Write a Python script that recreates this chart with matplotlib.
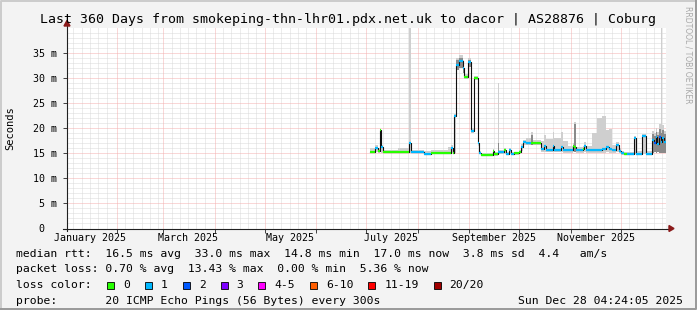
from datetime import datetime, timedelta

import matplotlib
matplotlib.use("Agg")
import matplotlib.pyplot as plt
from matplotlib.lines import Line2D
from matplotlib.patches import Rectangle, Polygon

W, H = 697, 310
MONO = "DejaVu Sans Mono"

# time window shown (360 days ending at the timestamp)
T_END = datetime(2025, 12, 28, 4, 24, 5)
T_START = T_END - timedelta(days=360)

# median rtt segments (start date of each step)
seg_start = [
    "2025-07-03", "2025-07-06", "2025-07-08", "2025-07-09", "2025-07-10", "2025-07-11",
    "2025-07-20", "2025-07-27", "2025-07-28", "2025-08-05", "2025-08-09", "2025-08-19",
    "2025-08-21", "2025-08-22", "2025-08-23", "2025-08-24", "2025-08-26", "2025-08-28",
    "2025-08-29", "2025-08-31", "2025-09-02", "2025-09-04", "2025-09-06", "2025-09-07",
    "2025-09-08", "2025-09-15", "2025-09-16", "2025-09-18", "2025-09-19", "2025-09-22",
    "2025-09-23", "2025-09-25", "2025-09-26", "2025-09-28", "2025-10-01", "2025-10-02",
    "2025-10-03", "2025-10-05", "2025-10-08", "2025-10-09", "2025-10-14", "2025-10-16",
    "2025-10-17", "2025-10-21", "2025-10-22", "2025-10-26", "2025-10-27", "2025-10-30",
    "2025-11-02", "2025-11-03", "2025-11-04", "2025-11-08", "2025-11-09", "2025-11-10",
    "2025-11-14", "2025-11-17", "2025-11-20", "2025-11-22", "2025-11-24", "2025-11-26",
    "2025-11-28", "2025-11-30", "2025-12-01", "2025-12-03", "2025-12-05", "2025-12-09",
    "2025-12-10", "2025-12-14", "2025-12-16", "2025-12-20", "2025-12-21", "2025-12-22",
    "2025-12-23", "2025-12-24", "2025-12-25", "2025-12-26", "2025-12-27",
]
median_ms = [
    15.3, 16.0, 15.4, 19.6, 16.3, 15.2,
    15.2, 17.0, 15.2, 14.9, 15.0, 15.0,
    16.0, 15.1, 22.4, 32.6, 33.3, 32.0,
    30.2, 33.2, 19.5, 30.0, 17.0, 15.0,
    14.6, 15.5, 14.8, 15.2, 15.2, 15.7,
    14.9, 15.7, 14.9, 15.0, 15.2, 16.3,
    17.2, 17.0, 17.0, 17.0, 15.8, 16.4,
    15.6, 16.4, 15.6, 16.2, 15.6, 15.6,
    16.4, 16.2, 15.6, 15.8, 16.5, 15.6,
    15.6, 15.6, 15.8, 16.3, 15.8, 15.7,
    16.6, 15.5, 15.0, 14.9, 14.9, 18.0,
    14.9, 18.4, 14.9, 17.6, 17.0, 18.2,
    16.9, 18.3, 17.3, 18.1, 17.2,
]
loss_idx = [
    0, 1, 0, 0, 1, 0,
    0, 1, 1, 1, 0, 0,
    1, 0, 1, 1, 1, 1,
    0, 1, 1, 0, 1, 1,
    0, 0, 0, 1, 1, 0,
    1, 1, 1, 0, 0, 1,
    1, 1, 0, 0, 1, 1,
    1, 1, 1, 1, 1, 1,
    0, 0, 1, 0, 1, 1,
    1, 1, 1, 1, 1, 1,
    1, 1, 1, 0, 1, 1,
    1, 1, 1, 1, 2, 1,
    1, 2, 1, 1, 1,
]
smoke_lo = [
    15.0, 15.2, 15.0, 15.2, 15.0, 15.0,
    15.0, 15.0, 15.0, 14.7, 14.8, 14.8,
    15.0, 14.8, 15.0, 31.5, 32.0, 31.0,
    29.8, 32.2, 19.0, 29.6, 16.5, 14.8,
    14.4, 14.6, 14.5, 14.8, 14.8, 14.9,
    14.6, 14.9, 14.6, 14.7, 14.8, 15.5,
    16.6, 16.6, 16.6, 16.6, 15.2, 15.3,
    15.2, 15.3, 15.2, 15.3, 15.1, 15.1,
    15.2, 15.2, 15.0, 15.1, 15.3, 15.1,
    15.1, 15.1, 15.1, 15.3, 15.1, 15.1,
    15.3, 15.0, 14.7, 14.6, 14.6, 14.8,
    14.6, 14.8, 14.6, 15.0, 15.2, 15.0,
    15.2, 15.0, 15.0, 15.0, 15.0,
]
smoke_hi = [
    16.0, 16.6, 16.0, 19.8, 16.6, 15.6,
    16.0, 40.0, 15.6, 15.4, 15.6, 16.2,
    16.6, 15.6, 22.8, 34.0, 34.6, 33.5,
    30.8, 34.0, 20.0, 30.4, 17.4, 15.4,
    15.0, 15.8, 15.2, 28.9, 15.6, 16.0,
    15.2, 16.0, 15.2, 15.3, 15.6, 16.8,
    17.6, 18.0, 19.3, 17.6, 17.5, 18.6,
    17.8, 19.3, 18.0, 19.2, 17.5, 16.4,
    17.0, 21.1, 16.2, 16.5, 17.3, 16.5,
    19.0, 22.0, 22.3, 19.6, 19.8, 16.6,
    17.2, 16.0, 15.4, 15.2, 15.3, 18.4,
    15.5, 18.8, 15.4, 19.5, 19.0, 20.0,
    19.2, 20.8, 40.0, 20.5, 19.5,
]
# darker core of the smoke (None = no dark core)
smoke_dark = [
    None, None, None, None, None, None,
    None, None, None, None, None, None,
    None, None, None, 33.6, 34.0, 33.0,
    None, 33.6, None, None, None, None,
    None, None, None, 17.0, None, None,
    None, None, None, None, None, None,
    None, None, 18.6, None, None, None,
    None, None, None, None, None, None,
    None, 20.8, None, None, None, None,
    None, None, None, None, None, None,
    None, None, None, None, None, None,
    None, None, None, 18.8, 18.5, 19.2,
    18.6, 19.8, 19.0, 19.6, 18.8,
]

loss_colors = ["#26ff00", "#00b8ff", "#0059ff", "#7e00ff",
               "#ff00ff", "#ff5e00", "#ff0000", "#a10000"]
loss_labels = ["0", "1", "2", "3", "4-5", "6-10", "11-19", "20/20"]

y_major = [5, 10, 15, 20, 25, 30, 35]
y_labels = ["5 m", "10 m", "15 m", "20 m", "25 m", "30 m", "35 m"]
month_labels = ["January 2025", "March 2025", "May 2025",
                "July 2025", "September 2025", "November 2025"]
month_label_dates = ["2025-01-16", "2025-03-16", "2025-05-16",
                     "2025-07-16", "2025-09-16", "2025-11-16"]

title = "Last 360 Days from smokeping-thn-lhr01.pdx.net.uk to dacor | AS28876 | Coburg"
legend_rows = [
    "median rtt:  16.5 ms avg  33.0 ms max  14.8 ms min  17.0 ms now  3.8 ms sd  4.4   am/s",
    "packet loss: 0.70 % avg  13.43 % max  0.00 % min  5.36 % now",
]
probe_text = "probe:       20 ICMP Echo Pings (56 Bytes) every 300s"
stamp_text = "Sun Dec 28 04:24:05 2025"

# ---------------------------------------------------------------------------
fig = plt.figure(figsize=(W / 100, H / 100), dpi=100)
fig.patch.set_facecolor("#f3f3f3")

L, R, T, B = 67, 666, 27.5, 228.5
ax = fig.add_axes([L / W, 1 - B / H, (R - L) / W, (B - T) / H])
ax.set_facecolor("white")
ax.set_xlim(T_START, T_END)
ax.set_ylim(0, 40)
for s in ax.spines.values():
    s.set_visible(False)

dot = (0, (1, 1))
GRID_MINOR = "#dadada"
GRID_MAJOR = "#f4b0b0"

# minor / major grid
for v in range(1, 40):
    if v % 5:
        ax.axhline(v, color=GRID_MINOR, lw=0.72, ls=dot, zorder=0)
for v in y_major:
    ax.axhline(v, color=GRID_MAJOR, lw=0.72, ls=dot, zorder=0.5)
day = datetime(2025, 1, 1)
while day < T_END:
    if day > T_START:
        if day.day == 1:
            ax.axvline(day, color=GRID_MAJOR, lw=0.72, ls=dot, zorder=0.5)
        elif day.day in (6, 11, 16, 21, 26):
            ax.axvline(day, color=GRID_MINOR, lw=0.72, ls=dot, zorder=0)
    day += timedelta(days=1)

# data
starts = [datetime.strptime(s, "%Y-%m-%d") for s in seg_start]
edges = starts + [T_END]
ends = edges[1:]

ax.fill_between(edges, smoke_lo + [smoke_lo[-1]], smoke_hi + [smoke_hi[-1]],
                step="post", color="#cfcfcf", lw=0, zorder=1)
for s0, s1, lo, dk in zip(starts, ends, smoke_lo, smoke_dark):
    if dk is not None:
        ax.fill_between([s0, s1], [lo, lo], [dk, dk], color="#8a8a8a", lw=0, zorder=1.5)

ax.step(edges, median_ms + [median_ms[-1]], where="post", color="#101010", lw=0.8, zorder=2)
ax.hlines(median_ms, starts, ends, colors=[loss_colors[i] for i in loss_idx],
          lw=1.6, zorder=3)

# ticks
ax.set_yticks(y_major + [0])
ax.set_yticklabels(y_labels + ["0  "], fontfamily=MONO, fontsize=7.2)
months = [datetime(2025, m, 1) for m in range(2, 13)]
ax.set_xticks(months)
ax.set_xticklabels([""] * len(months))
ax.set_xticks([datetime.strptime(d, "%Y-%m-%d") for d in month_label_dates], minor=True)
ax.set_xticklabels(month_labels, minor=True, fontfamily=MONO, fontsize=7.2)
ax.tick_params(axis="x", which="major", length=3, width=0.7, color="#404040", direction="out")
ax.tick_params(axis="x", which="minor", length=0, pad=3)
ax.tick_params(axis="y", length=3, width=0.7, color="#404040", pad=4)

# axes with arrows
ax.plot([-0.006, 1.01], [0, 0], transform=ax.transAxes, color="#202020", lw=0.8,
        clip_on=False, zorder=4)
ax.plot([0, 0], [-0.012, 1.02], transform=ax.transAxes, color="#202020", lw=0.8,
        clip_on=False, zorder=4)
ARROW = "#8b1a1a"
fig.add_artist(Polygon([(669 / W, 1 - 225.5 / H), (674 / W, 1 - 228.5 / H), (669 / W, 1 - 231.5 / H)],
                       closed=True, color=ARROW, transform=fig.transFigure))
fig.add_artist(Polygon([(64 / W, 1 - 26 / H), (67 / W, 1 - 20.5 / H), (70 / W, 1 - 26 / H)],
                       closed=True, color=ARROW, transform=fig.transFigure))

# texts
fig.text(348 / W, 1 - 19 / H, title, ha="center", va="center", fontfamily=MONO, fontsize=9.5)
fig.text(10 / W, 1 - 128 / H, "Seconds", rotation=90, ha="center", va="center",
         fontfamily=MONO, fontsize=7.5)
fig.text(688 / W, 1 - 6 / H, "RRDTOOL / TOBI OETIKER", rotation=270, ha="center", va="top",
         fontfamily="DejaVu Sans", fontsize=5.5, color="#a8a8a8")

LX = 16
row_y = [254, 269.5, 285, 300.5]
for txt, y in zip(legend_rows, row_y):
    fig.text(LX / W, 1 - y / H, txt, ha="left", va="center", fontfamily=MONO, fontsize=8.2)
fig.text(LX / W, 1 - row_y[2] / H, "loss color:", ha="left", va="center",
         fontfamily=MONO, fontsize=8.2)
bx = 107
for col, lab in zip(loss_colors, loss_labels):
    fig.add_artist(Rectangle((bx / W, 1 - (row_y[2] + 3.5) / H), 7 / W, 7 / H,
                             facecolor=col, edgecolor="black", lw=0.6,
                             transform=fig.transFigure))
    fig.text((bx + 16) / W, 1 - row_y[2] / H, lab, ha="left", va="center",
             fontfamily=MONO, fontsize=8.2)
    bx += 16 + 6.85 * len(lab) + 15
fig.text(LX / W, 1 - row_y[3] / H, probe_text, ha="left", va="center",
         fontfamily=MONO, fontsize=8.2)
fig.text(683 / W, 1 - row_y[3] / H, stamp_text, ha="right", va="center",
         fontfamily=MONO, fontsize=8.2)

# shaded frame
fig.add_artist(Line2D([0.5 / W, 0.5 / W, 1 - 0.5 / W], [0.5 / H, 1 - 0.5 / H, 1 - 0.5 / H],
                      color="#cbcbcb", lw=1.4, transform=fig.transFigure))
fig.add_artist(Line2D([0.5 / W, 1 - 1 / W, 1 - 1 / W], [1 / H, 1 / H, 1 - 0.5 / H],
                      color="#999999", lw=1.4, transform=fig.transFigure))

fig.savefig("out.png", dpi=100, facecolor=fig.get_facecolor())
